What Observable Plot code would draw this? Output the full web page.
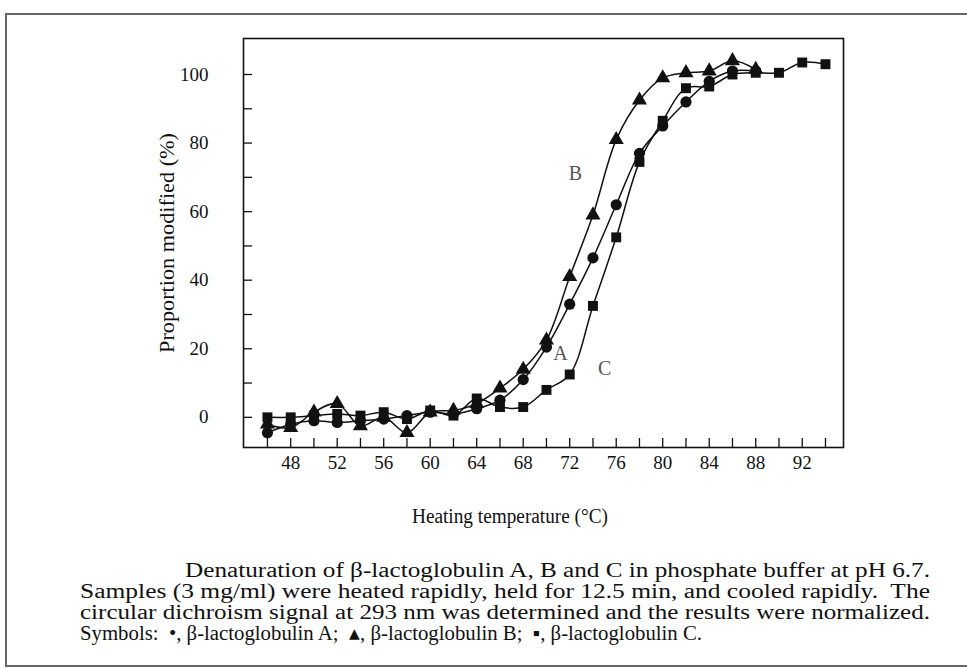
<!DOCTYPE html>
<html>
<head>
<meta charset="utf-8">
<script src="https://cdn.jsdelivr.net/npm/d3@7"></script>
<script src="https://cdn.jsdelivr.net/npm/@observablehq/plot@0.6"></script>
<style>
  html, body { margin: 0; padding: 0; background: #fff; width: 967px; height: 668px; overflow: hidden; }
  #border { position: absolute; left: 5px; top: 13px; width: 1000px; height: 650px; border: 2px solid #666; border-right: none; }
  #chart { position: absolute; left: 0; top: 0; }
  #overlay { position: absolute; left: 0; top: 0; }
</style>
</head>
<body>
<div id="border"></div>
<div id="chart"></div>
<svg id="overlay" width="967" height="668"></svg>
<script>
// Heating temperatures (°C)
const tempsAB = [46,48,50,52,54,56,58,60,62,64,66,68,70,72,74,76,78,80,82,84,86,88];
const tempsC  = [46,48,50,52,54,56,58,60,62,64,66,68,70,72,74,76,78,80,82,84,86,88,90,92,94];
// Proportion modified (%)
const lactoA = [-4.5,-2,-1,-1.5,-1,-0.5,0.5,1.5,1,2.5,5,11,20.5,33,46.5,62,77,85,92,98,101,101];
const lactoB = [-2,-3,1.5,4,-2.5,0,-4.5,1.5,2,4,8.5,14,22.5,41,59,81,92.5,99,100.5,101,104,101.5];
const lactoC = [0,0,0.5,1,0.5,1.5,-0.5,2,0.5,5.5,3,3,8,12.5,32.5,52.5,74.5,86.5,96,96.5,100,100.5,100.5,103.5,103];
// Series names and curve letters
const seriesNames = ["A","B","C"];
const seriesSymbols = ["circle","triangle","square"];
const curveLabels = ["A","B","C"];
const labelX = [71.2, 72.5, 75.0];
const labelY = [18.6, 71.2, 14.3];
// Axis ticks
const xTickMarks = d3.range(46, 95, 2);
const xTickLabels = [48,52,56,60,64,68,72,76,80,84,88,92];
const yTickMarks = [0,10,20,30,40,50,60,70,80,90,100];
const yTickLabels = [0,20,40,60,80,100];
// Caption
const captionLines = [
  "Denaturation of β-lactoglobulin A, B and C in phosphate buffer at pH 6.7.",
  "Samples (3 mg/ml) were heated rapidly, held for 12.5 min, and cooled rapidly.  The",
  "circular dichroism signal at 293 nm was determined and the results were normalized.",
  "Symbols:  •, β-lactoglobulin A;  ▴, β-lactoglobulin B;  ▪, β-lactoglobulin C."
];

const rows = [
  ...tempsAB.map((t,i) => ({series: "A", temp: t, value: lactoA[i]})),
  ...tempsAB.map((t,i) => ({series: "B", temp: t, value: lactoB[i]})),
  ...tempsC.map((t,i) => ({series: "C", temp: t, value: lactoC[i]}))
];
const labels = curveLabels.map((l,i) => ({text: l, x: labelX[i], y: labelY[i]}));
const serif = "Liberation Serif, serif";

const plot = Plot.plot({
  width: 967,
  height: 480,
  marginLeft: 243,
  marginRight: 124,
  marginTop: 38,
  marginBottom: 33,
  x: {domain: [43.94, 95.55]},
  y: {domain: [-8.8, 110.5]},
  symbol: {domain: seriesNames, range: seriesSymbols},
  style: {fontFamily: serif, fontSize: "19px", color: "#111", background: "transparent", overflow: "visible"},
  marks: [
    Plot.frame({stroke: "#111", strokeWidth: 1.6}),
    Plot.ruleX(xTickMarks, {x: d => d, insetTop: 400, stroke: "#111", strokeWidth: 1.3}),
    Plot.ruleY(yTickMarks, {y: d => d, insetRight: 591, stroke: "#111", strokeWidth: 1.3}),
    Plot.axisX(xTickLabels, {tickSize: 0, tickPadding: 8, label: null, fontSize: 19}),
    Plot.axisY(yTickLabels, {tickSize: 0, tickPadding: 35, label: null, fontSize: 19}),
    Plot.line(rows, {x: "temp", y: "value", z: "series", curve: "catmull-rom", stroke: "#111", strokeWidth: 1.5}),
    Plot.dot(rows, {x: "temp", y: "value", symbol: "series", fill: "#111", stroke: "none", r: 5.6}),
    Plot.text(labels, {x: "x", y: "y", text: "text", fontSize: 20, fill: "#555"})
  ]
});
d3.select(plot).selectAll("text").attr("font-family", serif);
document.getElementById("chart").appendChild(plot);

// Titles and caption
const ov = d3.select("#overlay");
ov.append("text")
  .attr("transform", "translate(174,243) rotate(-90)")
  .attr("text-anchor", "middle")
  .attr("textLength", 220).attr("lengthAdjust", "spacingAndGlyphs")
  .attr("font-family", serif).attr("font-size", 21).attr("fill", "#111")
  .text("Proportion modified (%)");
ov.append("text")
  .attr("x", 412).attr("y", 523)
  .attr("textLength", 196).attr("lengthAdjust", "spacingAndGlyphs")
  .attr("font-family", serif).attr("font-size", 20).attr("fill", "#111")
  .text("Heating temperature (°C)");

const capX = [185, 80, 80, 80];
const capY = [577, 598, 619, 640];
const capW = [745, 850, 850, 622];
captionLines.forEach((t, i) => {
  ov.append("text").attr("x", capX[i]).attr("y", capY[i])
    .attr("textLength", capW[i]).attr("lengthAdjust", "spacingAndGlyphs")
    .attr("font-family", serif).attr("font-size", 20.5).attr("fill", "#111")
    .style("white-space", "pre")
    .text(t);
});
</script>
</body>
</html>
